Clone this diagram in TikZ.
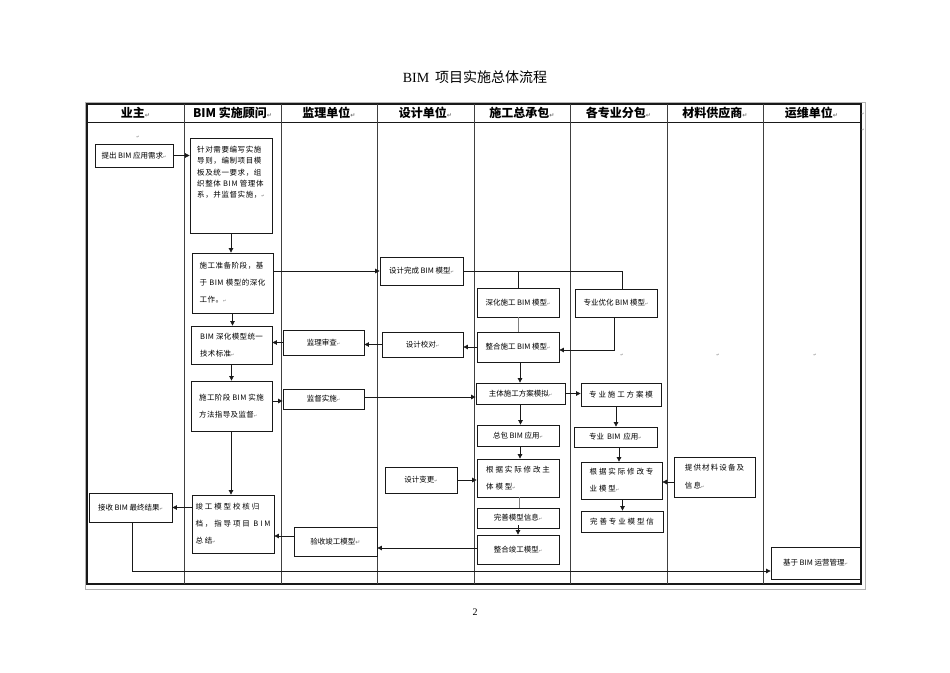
\documentclass[tikz,border=0pt]{standalone}
\usepackage{fontspec}
\setmainfont{Noto Sans CJK SC}
\newfontfamily\serifen{Liberation Serif}
\newfontfamily\dv{DejaVu Sans}
\usetikzlibrary{arrows.meta,calc}
\newcommand{\pmk}{{\dv\fontsize{4}{4}\selectfont\color{black!55}↵}}
\newcommand{\hmk}{{\dv\fontsize{6}{6}\selectfont\color{black!55}↵}}
\begin{document}
\begin{tikzpicture}[x=1pt,y=-1pt,
  box/.style={draw=black!90,line width=0.8pt,inner sep=0pt,font=\fontsize{7.5}{11}\selectfont,align=center},
  mbox/.style={box,align=left},
  wide/.style={font=\fontsize{7.5}{17}\selectfont\addfontfeature{LetterSpace=#1}},
  arr/.style={draw=black!90,line width=0.7pt,-{Triangle[length=4.5pt,width=4.5pt]}},
  ln/.style={draw=black!90,line width=0.7pt},
  gln/.style={draw=black!50,line width=0.7pt},
  hd/.style={font=\fontsize{12}{12}\selectfont\bfseries,inner sep=0pt},
  mk/.style={font=\dv\fontsize{4}{4}\selectfont,text=black!50,inner sep=0pt}]
\useasboundingbox (0,0) rectangle (950,672);
\fill[white] (0,0) rectangle (950,672);

% title and page number
\node[font=\fontsize{14}{14}\selectfont,inner sep=0pt] (title) at (475,77) {{\serifen BIM}\hspace{6pt}项目实施总体流程};
\node[font=\serifen\fontsize{10}{10}\selectfont,inner sep=0pt] (pg) at (475,612) {2};

% table
\draw[black!30,line width=0.6pt] (85,102) rectangle (865,589);
\draw[black!90,line width=1.2pt] (87,104) rectangle (861,584);
\draw[black!90,line width=0.8pt] (87,122) -- (861,122);
\foreach \x in {184,281,377,474,570,667,763}
  \draw[black!75,line width=0.8pt] (\x,104) -- (\x,584);

\node[hd] (h1) at (135.5,113) {业主\hmk};
\node[hd] (h2) at (232.5,113) {BIM 实施顾问\hmk};
\node[hd] (h3) at (329,113) {监理单位\hmk};
\node[hd] (h4) at (425.5,113) {设计单位\hmk};
\node[hd] (h5) at (522,113) {施工总承包\hmk};
\node[hd] (h6) at (618.5,113) {各专业分包\hmk};
\node[hd] (h7) at (715,113) {材料供应商\hmk};
\node[hd] (h8) at (811.5,113) {运维单位\hmk};

% stray paragraph marks
\node[mk] (m1) at (138,137) {↵};
\node[mk] (m2) at (622,355) {↵};
\node[mk] (m3) at (718,355) {↵};
\node[mk] (m4) at (815,355) {↵};
\node[mk] (m5) at (863,114) {↵};
\node[mk] (m6) at (863,130) {↵};

% boxes
\node[box,minimum width=78pt,minimum height=23pt] (req) at (134,155.5) {提出 BIM 应用需求\pmk};
\node[mbox,font=\fontsize{7.5}{11.2}\selectfont\addfontfeature{LetterSpace=8},minimum width=82pt,minimum height=95pt] (guide) at (231,185.5)
  {针对需要编写实施\\导则，编制项目模\\板及统一要求，组\\织整体 BIM 管理体\\系，并监督实施，\pmk\\[16pt]\mbox{}};
\node[mbox,wide=7,minimum width=81pt,minimum height=60pt] (prep) at (232.5,283)
  {施工准备阶段，基\\于 BIM 模型的深化\\工作。\pmk};
\node[mbox,wide=5,minimum width=81pt,minimum height=38pt] (std) at (231.5,345)
  {BIM 深化模型统一\\技术标准\pmk};
\node[mbox,wide=5,minimum width=81pt,minimum height=50pt] (cons) at (231.5,406)
  {施工阶段 BIM 实施\\方法指导及监督\pmk};
\node[mbox,wide=25,minimum width=82pt,minimum height=58pt] (jg) at (233,524)
  {竣工模型校核归\\档，指导项目 BIM\\总结\pmk};
\node[box,minimum width=83pt,minimum height=29pt] (recv) at (130.5,507.5) {接收 BIM 最终结果\pmk};

\node[box,minimum width=81pt,minimum height=25pt] (audit) at (323.5,342.5) {监理审查\pmk};
\node[box,minimum width=81pt,minimum height=20pt] (sup) at (323.5,399) {监督实施\pmk};
\node[box,minimum width=83pt,minimum height=29pt] (accept) at (335.5,541.5) {验收竣工模型\hmk};

\node[box,minimum width=83pt,minimum height=28pt] (dcomp) at (421.5,271) {设计完成 BIM 模型\pmk};
\node[box,minimum width=81pt,minimum height=25pt] (dcheck) at (422.5,344.5) {设计校对\pmk};
\node[box,minimum width=72pt,minimum height=26pt] (dchange) at (421,480) {设计变更\pmk};

\node[box,minimum width=82pt,minimum height=29pt] (deep) at (518,302.5) {深化施工 BIM 模型\pmk};
\node[box,minimum width=82pt,minimum height=30pt] (integ) at (518,347) {整合施工 BIM 模型\pmk};
\node[box,minimum width=89pt,minimum height=21pt] (main) at (520.5,393.5) {主体施工方案模拟\pmk};
\node[box,minimum width=82pt,minimum height=21pt] (gc) at (518,435.5) {总包 BIM 应用\pmk};
\node[mbox,wide=25,minimum width=82pt,minimum height=38pt] (modm) at (518,478) {根据实际修改主\\体模型\pmk};
\node[box,minimum width=82pt,minimum height=20pt] (perf) at (518,518) {完善模型信息\pmk};
\node[box,minimum width=82pt,minimum height=29pt] (asb) at (518,549.5) {整合竣工模型\pmk};

\node[box,minimum width=82pt,minimum height=28pt] (opt) at (616,303) {专业优化 BIM 模型\pmk};
\node[box,wide=25,minimum width=80pt,minimum height=23pt] (sp) at (621,394.5) {专业施工方案模};
\node[box,font=\fontsize{7.5}{11}\selectfont,minimum width=83pt,minimum height=20pt] (sbim) at (615.5,437) {专业\hspace{3pt}BIM\hspace{3pt}应用\pmk};
\node[mbox,wide=25,minimum width=81pt,minimum height=37pt] (mods) at (621.5,480.5) {根据实际修改专\\业模型\pmk};
\node[box,wide=25,minimum width=82pt,minimum height=21pt] (perfs) at (622,521.5) {完善专业模型信};

\node[mbox,font=\fontsize{7.5}{18}\selectfont\addfontfeature{LetterSpace=15},minimum width=81pt,minimum height=40pt] (supply) at (714.5,477) {提供材料设备及\\信息\pmk};
\node[box,minimum width=89pt,minimum height=32pt] (om) at (815.5,563) {基于 BIM 运营管理\pmk};

% connectors
\draw[arr] (req.east) -- (req.east -| guide.west);
\draw[arr] (guide.south) -- (guide.south |- prep.north);
\draw[arr] (dcomp.west -| prep.east) -- (dcomp.west);
\draw[ln] (dcomp.east) -| ([xshift=6pt]opt.north);
\draw[ln] (deep.north) -- (deep.north |- dcomp.east);
\draw[gln] (deep.south) -- (integ.north);
\draw[arr] ([xshift=-2pt]opt.south) |- ([yshift=-3pt]integ.east);
\draw[arr] (integ.west) -- (integ.west -| dcheck.east);
\draw[arr] (dcheck.west) -- (dcheck.west -| audit.east);
\draw[arr] (audit.west) -- (audit.west -| std.east);
\draw[arr] (prep.south) -- (prep.south |- std.north);
\draw[arr] (std.south) -- (std.south |- cons.north);
\draw[arr] ([yshift=-2pt]sup.west -| cons.east) -- ([yshift=-2pt]sup.west);
\draw[arr] ([yshift=2pt]sup.east) -- ([yshift=2pt]sup.east -| main.west);
\draw[arr] ([xshift=2pt]integ.south) -- ([xshift=2pt]integ.south |- main.north);
\draw[arr] (main.east) -- (main.east -| sp.west);
\draw[arr] (main.south) -- (main.south |- gc.north);
\draw[arr] ([xshift=-5pt]sp.south) -- ([xshift=-5pt]sp.south |- sbim.north);
\draw[arr] ([xshift=2pt]gc.south) -- ([xshift=2pt]gc.south |- modm.north);
\draw[arr] ([xshift=3.5pt]sbim.south) -- ([xshift=3.5pt]sbim.south |- mods.north);
\draw[arr] ([yshift=-5pt]supply.west) -- ([yshift=-5pt]supply.west -| mods.east);
\draw[arr] ([xshift=1pt]mods.south) -- ([xshift=1pt]mods.south |- perfs.north);
\draw[arr] (dchange.east) -- (dchange.east -| modm.west);
\draw[gln] ([xshift=1pt]modm.south) -- ([xshift=1pt]modm.south |- perf.north);
\draw[arr] ([yshift=3pt]perf.south) -- (asb.north);
\draw[arr] ([yshift=1.5pt]asb.west) -- ([yshift=1.5pt]asb.west -| accept.east);
\draw[arr] ([yshift=5.5pt]accept.west) -- ([yshift=5.5pt]accept.west -| jg.east);
\draw[arr] ([xshift=-0.5pt]cons.south) -- ([xshift=-0.5pt]cons.south |- jg.north);
\draw[arr] (recv.east -| jg.west) -- (recv.east);
\draw[arr] ([xshift=1.5pt]recv.south) |- ([yshift=-8pt]om.west);
\end{tikzpicture}
\end{document}
